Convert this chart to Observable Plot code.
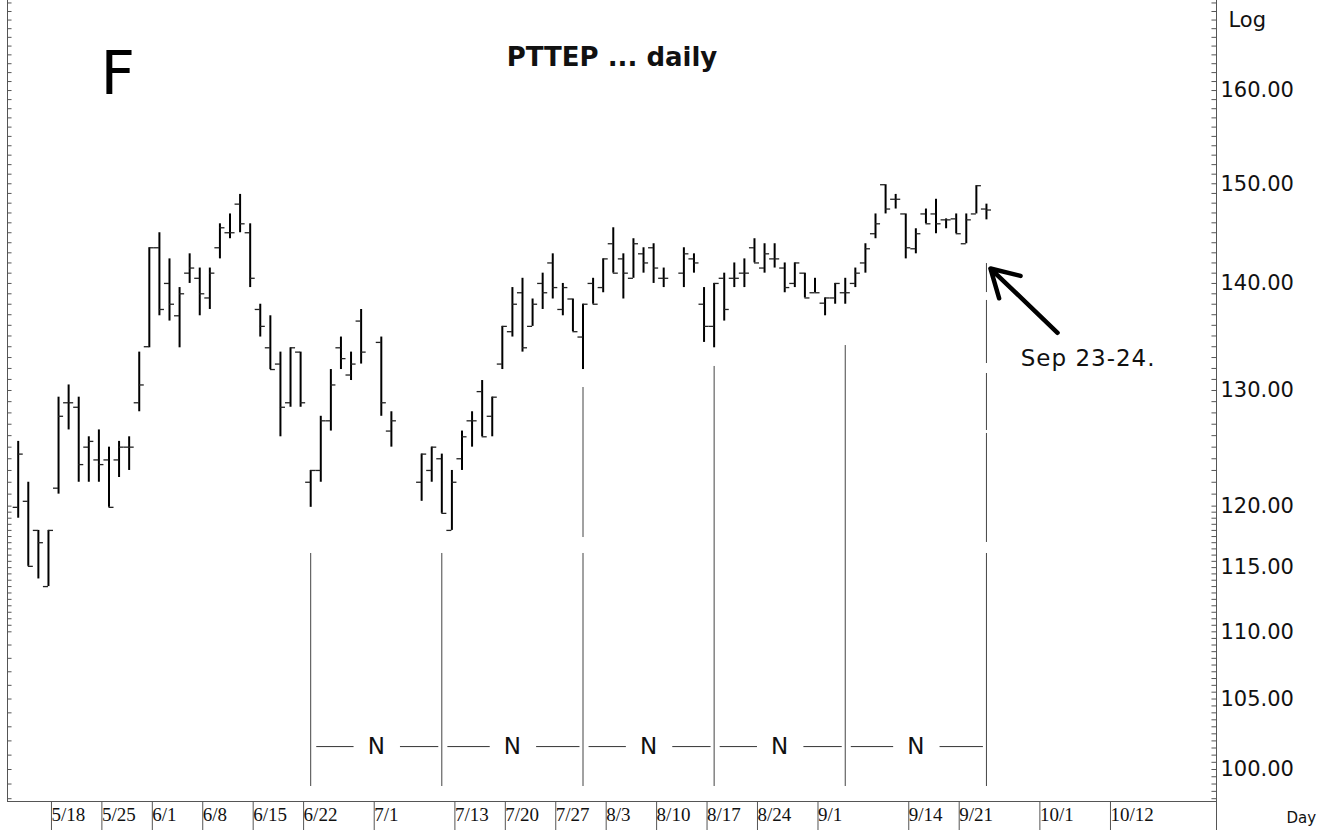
<!DOCTYPE html>
<html><head><meta charset="utf-8">
<script src="https://cdn.jsdelivr.net/npm/d3@7"></script>
<script src="https://cdn.jsdelivr.net/npm/@observablehq/plot@0.6"></script>
<style>html,body{margin:0;padding:0;background:#fff;overflow:hidden}#chart svg{display:block}</style>
</head><body><div id="chart"></div>
<script>
// ---- data (PTTEP daily, 2009) ----
const dates = ["2009-05-13","2009-05-14","2009-05-15","2009-05-18","2009-05-19","2009-05-20","2009-05-21","2009-05-22","2009-05-25","2009-05-26","2009-05-27","2009-05-28","2009-05-29","2009-06-01","2009-06-02","2009-06-03","2009-06-04","2009-06-05","2009-06-08","2009-06-09","2009-06-10","2009-06-11","2009-06-12","2009-06-15","2009-06-16","2009-06-17","2009-06-18","2009-06-19","2009-06-22","2009-06-23","2009-06-24","2009-06-25","2009-06-26","2009-06-29","2009-06-30","2009-07-02","2009-07-03","2009-07-08","2009-07-09","2009-07-10","2009-07-13","2009-07-14","2009-07-15","2009-07-16","2009-07-17","2009-07-20","2009-07-21","2009-07-22","2009-07-23","2009-07-24","2009-07-27","2009-07-28","2009-07-29","2009-07-30","2009-07-31","2009-08-03","2009-08-04","2009-08-05","2009-08-06","2009-08-07","2009-08-10","2009-08-11","2009-08-13","2009-08-14","2009-08-17","2009-08-18","2009-08-19","2009-08-20","2009-08-21","2009-08-24","2009-08-25","2009-08-26","2009-08-27","2009-08-28","2009-08-31","2009-09-01","2009-09-02","2009-09-03","2009-09-04","2009-09-07","2009-09-08","2009-09-09","2009-09-10","2009-09-11","2009-09-14","2009-09-15","2009-09-16","2009-09-17","2009-09-18","2009-09-21","2009-09-22","2009-09-23","2009-09-24"];
const open = [119.9,120.4,118.0,113.5,121.5,128.9,128.5,125.0,123.9,123.9,123.9,125.0,128.9,
  134.0,143.5,140.0,136.9,141.0,140.5,138.6,143.5,145.0,147.9,
  145.0,137.5,133.9,132.4,128.9,133.5,122.0,123.0,127.3,133.9,131.4,136.4,
  134.4,126.4,
  122.0,123.0,124.0,118.0,124.0,127.3,129.9,127.7,
  132.4,135.4,139.1,135.9,140.0,142.0,137.5,138.5,134.9,140.0,
  139.6,143.9,142.4,140.5,142.9,143.5,140.5,
  141.0,142.4,138.0,135.9,140.5,140.5,141.0,
  143.5,141.5,142.4,141.5,140.0,141.0,139.1,138.1,138.6,139.1,
  140.0,142.0,144.9,149.9,148.4,146.9,143.4,146.9,146.9,146.3,146.4,143.9,146.9,147.4];
const high = [125.5,122.0,118.0,118.0,129.4,130.5,129.4,125.9,126.5,125.0,125.5,125.9,133.5,
  143.5,145.0,142.4,139.6,142.9,141.5,141.5,145.9,146.9,148.9,
  145.9,138.0,136.9,133.5,133.9,133.5,123.0,127.7,131.9,134.9,133.5,137.5,
  134.9,128.1,
  124.4,125.0,124.4,123.0,126.4,128.1,130.9,129.4,
  135.9,139.6,140.5,138.5,141.0,142.9,140.0,138.5,138.0,140.5,
  142.4,145.5,142.9,144.4,143.5,143.9,141.5,
  143.5,142.9,139.6,140.0,141.0,142.0,142.4,
  144.4,143.9,143.9,142.0,142.0,141.0,140.5,138.6,140.0,140.5,
  141.5,143.9,146.9,149.9,148.9,146.9,145.4,147.4,148.4,146.4,146.9,146.9,149.8,147.9];
const low = [119.0,115.1,114.1,113.5,121.0,126.5,122.0,122.0,122.0,119.9,122.4,123.0,128.1,
  133.9,136.9,136.4,133.9,140.0,136.9,137.5,142.4,144.4,145.0,
  139.6,134.9,131.9,125.9,128.5,128.5,119.9,122.0,126.4,131.9,130.9,132.4,
  127.7,125.0,
  120.4,122.0,119.4,118.0,123.0,125.0,125.9,125.9,
  131.9,134.9,133.5,135.9,137.5,138.5,136.9,135.4,131.9,138.0,
  139.1,141.0,138.5,140.5,141.0,140.0,139.6,
  139.6,141.0,134.4,133.9,136.4,139.6,139.6,
  142.0,141.0,141.5,139.1,139.6,138.6,139.1,136.9,138.0,138.0,
  139.6,141.0,144.4,146.9,147.4,142.4,142.9,145.9,144.9,145.4,144.9,143.9,146.9,146.3];
const close = [124.4,115.1,117.0,118.0,127.7,128.9,123.5,125.5,123.5,119.9,125.0,125.0,130.5,
  143.5,137.5,138.0,139.0,141.5,139.0,141.0,145.5,145.0,145.9,
  140.5,135.9,131.9,128.5,133.9,128.9,123.0,127.3,130.5,132.9,132.4,133.5,
  128.9,127.3,
  124.4,125.0,119.4,122.0,125.9,127.3,125.9,129.4,
  135.9,138.0,133.9,138.0,139.1,139.6,139.6,135.4,138.0,138.0,
  142.4,141.0,141.0,143.9,142.0,141.5,140.5,
  142.9,142.0,135.9,140.0,137.5,140.5,141.0,
  142.0,142.9,142.4,139.6,142.0,138.6,139.1,138.6,140.0,139.1,
  141.0,143.4,145.9,147.4,148.4,143.5,144.9,145.9,145.9,146.3,144.9,146.3,149.8,147.3];

// x-axis tick labels
const tickDates  = ["2009-05-18","2009-05-25","2009-06-01","2009-06-08","2009-06-15","2009-06-22","2009-07-01","2009-07-13","2009-07-20","2009-07-27","2009-08-03","2009-08-10","2009-08-17","2009-08-24","2009-09-01","2009-09-14","2009-09-21","2009-10-01","2009-10-12"];
const tickLabels = ["5/18","5/25","6/1","6/8","6/15","6/22","7/1","7/13","7/20","7/27","8/3","8/10","8/17","8/24","9/1","9/14","9/21","10/1","10/12"];
// y-axis labels
const yLabels = [100,105,110,115,120,130,140,150,160];

// cycle-low vertical lines (date, top price, bottom price)
const cycleDates  = ["2009-06-23","2009-07-10","2009-07-30","2009-07-30","2009-08-18","2009-09-04","2009-09-24","2009-09-24","2009-09-24","2009-09-24","2009-09-24"];
const cycleTop    = [116.13,116.13,130.27,116.13,132.18,134.11,141.94,138.36,131.54,126.19,116.13];
const cycleBottom = [98.83,98.83,117.42,98.83,98.83,98.83,139.12,132.45,126.45,117.02,98.83];
const nLevel = 101.6;

// annotation
const noteText = "Sep 23-24.";
const notePos = {i: 99.4, price: 132.9};
const arrowTail = {i: 103.05, price: 135.3};
const arrowTip  = {i: 96.4,  price: 141.45};

// ---- helpers ----
const start = new Date(Date.UTC(2009, 4, 13));
function wd(s) {
  const d = new Date(s + "T00:00:00Z");
  return d3.utcDays(start, d).filter(t => t.getUTCDay() % 6 !== 0).length;
}
const bars = dates.map((s, k) => ({i: wd(s), open: open[k], high: high[k], low: low[k], close: close[k]}));
const ticks = tickDates.map((s, k) => ({i: wd(s), label: tickLabels[k]}));
const tickMap = new Map(ticks.map(t => [t.i, t.label]));
const cycles = cycleDates.map((s, k) => ({i: wd(s), top: cycleTop[k], bottom: cycleBottom[k]}));
const lows = Array.from(new Set(cycleDates)).map(wd);
const nPairs = d3.pairs(lows).map(([a, b]) => ({a, b, mid: (a + b) / 2}));
const nDashes = nPairs.flatMap(p => [{x1: p.a + 0.6, x2: p.mid - 2.2}, {x1: p.mid + 2.4, x2: p.b - 0.3}]);

const X0 = -1.061, X1 = 118.809;
const Y0 = 97.81, Y1 = 170.29;
const rightMinor = d3.range(98, 120, 0.5).concat(d3.range(120, 171, 1));
const leftMinor = d3.range(98, 110, 1).concat(d3.range(110, 120, 0.5), d3.range(120, 171, 1));
const SANS = "DejaVu Sans, sans-serif";
const AX = "#555";

const chart = Plot.plot({
  width: 1331, height: 830,
  marginLeft: 7, marginRight: 115, marginTop: 0, marginBottom: 29,
  style: {background: "#fff", overflow: "visible", fontFamily: SANS},
  x: {type: "linear", domain: [X0, X1]},
  y: {type: "log", domain: [Y0, Y1]},
  marks: [
    // axis frame lines
    Plot.ruleX([X0], {stroke: AX}),
    Plot.ruleY([Y0], {stroke: AX}),
    Plot.ruleX([X1], {stroke: AX}),
    Plot.ruleY(leftMinor, {y: d => d, x1: X0, x2: X0 + 0.45, stroke: AX}),
    Plot.ruleY(rightMinor, {y: d => d, x1: X1 - 0.45, x2: X1, stroke: AX}),
    Plot.axisY(yLabels, {anchor: "right", tickSize: 0, tickPadding: 4, tickFormat: d => d.toFixed(2),
      fontSize: 21, fontFamily: SANS, fill: "#111", label: null}),
    Plot.axisX(ticks.map(t => t.i), {anchor: "bottom", tickSize: 29, tickPadding: -23, textAnchor: "start", dx: 3,
      tickFormat: d => tickMap.get(d), fontSize: 19, fontFamily: "Liberation Serif, serif", fill: "#111", stroke: AX, label: null}),
    Plot.axisX([X1], {anchor: "bottom", tickSize: 29, tickFormat: () => "", stroke: AX, label: null}),
    // cycle lines and N markers
    Plot.ruleX(cycles, {x: "i", y1: "bottom", y2: "top", stroke: "#444", strokeWidth: 1}),
    Plot.ruleY(nDashes, {y: nLevel, x1: "x1", x2: "x2", stroke: "#333", strokeWidth: 1}),
    Plot.text(nPairs, {x: "mid", y: nLevel, text: () => "N", fontSize: 23, fill: "#111"}),
    // OHLC bars
    Plot.ruleX(bars, {x: "i", y1: "low", y2: "high", stroke: "#000", strokeWidth: 2}),
    Plot.ruleY(bars, {y: "open", x1: d => d.i - 0.5, x2: "i", stroke: "#222", strokeWidth: 1.3}),
    Plot.ruleY(bars, {y: "close", x1: "i", x2: d => d.i + 0.5, stroke: "#222", strokeWidth: 1.3}),
    // annotation
    Plot.arrow([0], {x1: arrowTail.i, y1: arrowTail.price, x2: arrowTip.i, y2: arrowTip.price,
      stroke: "#000", strokeWidth: 4.5, headLength: 36}),
    Plot.text([noteText], {x: notePos.i, y: notePos.price, text: d => d, textAnchor: "start", fontSize: 23, fill: "#111"}),
    // titles
    Plot.text(["PTTEP ... daily"], {frameAnchor: "top", lineAnchor: "middle", dy: 57, text: d => d, fontSize: 26, fontWeight: "bold", fill: "#111"}),
    Plot.text(["F"], {frameAnchor: "top-left", lineAnchor: "middle", dx: 93, dy: 74, text: d => d, textAnchor: "start", fontSize: 60, fill: "#000"}),
    Plot.text(["Log"], {frameAnchor: "top-right", lineAnchor: "middle", dx: 12, dy: 20, text: d => d, textAnchor: "start", fontSize: 21, fill: "#111"}),
    Plot.text(["Day"], {frameAnchor: "bottom-right", lineAnchor: "middle", dx: 70, dy: 17, text: d => d, textAnchor: "start", fontSize: 15, fill: "#111"})
  ]
});
d3.select(chart).selectAll("text").filter(function () { return this.textContent === noteText; })
  .style("letter-spacing", "1px");
document.getElementById("chart").appendChild(chart);
</script>
</body></html>
